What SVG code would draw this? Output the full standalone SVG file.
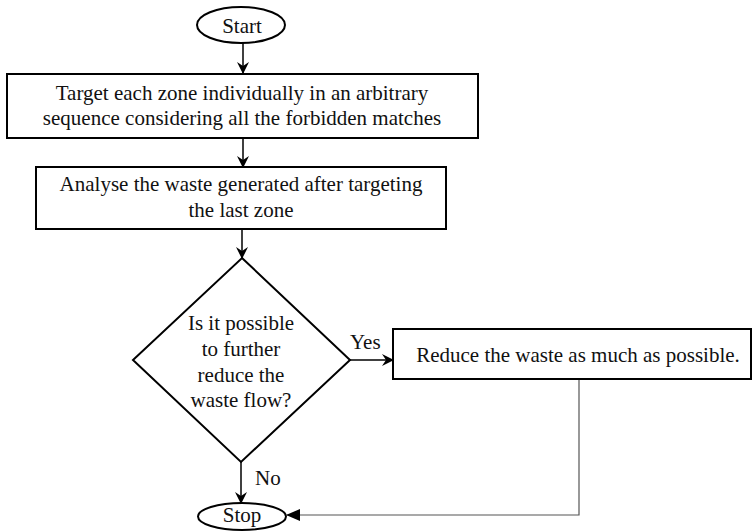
<svg xmlns="http://www.w3.org/2000/svg" width="753" height="531" viewBox="0 0 753 531">
<style>
.shape{fill:#fff;stroke:#000;stroke-width:2}
.t{font-family:"Liberation Serif","Times New Roman",serif;font-size:21px;fill:#111;text-anchor:middle}
.l{font-family:"Liberation Serif","Times New Roman",serif;font-size:21px;fill:#111}
.c{fill:none;stroke:#000;stroke-width:1.5}
.fb{fill:none;stroke:#555;stroke-width:1.2}
</style>
<defs>
<marker id="ah" viewBox="0 0 12 12" refX="11" refY="6" markerWidth="12" markerHeight="12" markerUnits="userSpaceOnUse" orient="auto">
<path d="M0,0 L12,6 L0,12 L4,6 Z" fill="#000"/>
</marker>
<marker id="tri" viewBox="0 0 14 12" refX="13" refY="6" markerWidth="14" markerHeight="12" markerUnits="userSpaceOnUse" orient="auto">
<path d="M0,0 L14,6 L0,12 Z" fill="#000"/>
</marker>
</defs>
<rect width="753" height="531" fill="#fff"/>
<g id="connectors">
<line class="c" x1="243" y1="43" x2="243" y2="73" marker-end="url(#ah)"/>
<line class="c" x1="243" y1="138" x2="243" y2="167" marker-end="url(#ah)"/>
<line class="c" x1="242" y1="229" x2="242" y2="258" marker-end="url(#ah)"/>
<line class="c" x1="350" y1="360" x2="393" y2="360" marker-end="url(#ah)"/>
<line class="c" x1="241" y1="462" x2="241" y2="503" marker-end="url(#ah)"/>
<polyline class="fb" points="579,379 579,515 287,515" marker-end="url(#tri)"/>
<text class="l" x="350" y="349">Yes</text>
<text class="l" x="255" y="485">No</text>
</g>
<g id="start">
<ellipse class="shape" cx="241" cy="25" rx="44" ry="18"/>
<text class="t" x="242" y="33">Start</text>
</g>
<g id="target">
<rect class="shape" x="7" y="74" width="471" height="64"/>
<text class="t" x="242" y="100">Target each zone individually in an arbitrary</text>
<text class="t" x="242" y="125">sequence considering all the forbidden matches</text>
</g>
<g id="analyse">
<rect class="shape" x="36" y="167" width="410" height="62"/>
<text class="t" x="241" y="191">Analyse the waste generated after targeting</text>
<text class="t" x="241" y="217">the last zone</text>
</g>
<g id="decision">
<polygon class="shape" points="242,258 350,360 241,462 133,360"/>
<text class="t" x="241" y="330">Is it possible</text>
<text class="t" x="241" y="356">to further</text>
<text class="t" x="241" y="382">reduce the</text>
<text class="t" x="241" y="407">waste flow?</text>
</g>
<g id="reduce">
<rect class="shape" x="393" y="329" width="358" height="50"/>
<text class="t" x="578" y="362">Reduce the waste as much as possible.</text>
</g>
<g id="stop">
<ellipse class="shape" cx="242" cy="516.5" rx="44" ry="13.5"/>
<text class="t" x="242" y="522">Stop</text>
</g>
</svg>
